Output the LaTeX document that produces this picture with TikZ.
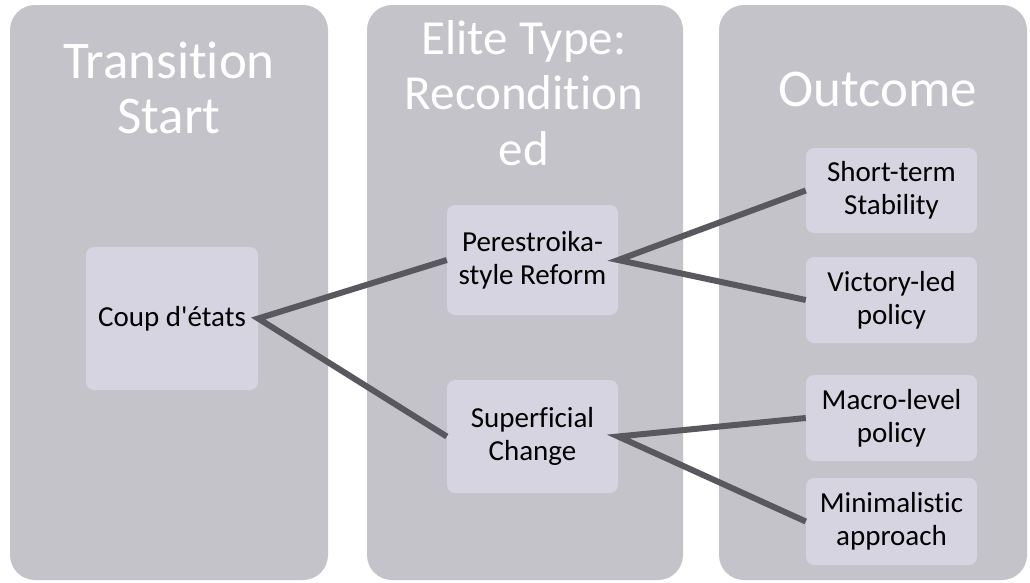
\documentclass[tikz,border=0pt]{standalone}
\usepackage{fontspec}
\setmainfont{Carlito}[Ligatures={TeXOff,CommonOff}]
\usetikzlibrary{calc}
\definecolor{colbg}{RGB}{196,195,202}
\definecolor{itembg}{RGB}{213,212,224}
\definecolor{linkgrey}{RGB}{88,88,94}
\begin{document}
\begin{tikzpicture}[x=1pt,y=-1pt]
	\tikzset{
	    column/.style={fill=colbg,rounded corners=25pt,inner sep=0pt},
	    heading/.style={anchor=north,align=center,text=white,inner sep=0pt,
	        font=\fontsize{53}{55}\selectfont},
	    item/.style={fill=itembg,rounded corners=8pt,align=center,inner sep=0pt,
	        minimum width=171pt,font=\fontsize{29}{33}\selectfont},
	    link/.style={draw=linkgrey,line width=6pt}}
	\useasboundingbox[fill=white] (0,0) rectangle (1030,582);
	% columns
	\node[column,minimum width=318pt,minimum height=575pt] (colstart) at (169,292.5) {};
	\node[column,minimum width=316pt,minimum height=575pt] (coltype) at (525,292.5) {};
	\node[column,minimum width=308pt,minimum height=575pt] (colout) at (873,292.5) {};
	\node[heading] (hstart) at (169,42) {Transition\\Start};
	\node[heading,font=\fontsize{49}{55.5}\selectfont] (htype) at (524,20) {Elite Type:\\Recondition\\ed};
	\node[heading] (hout) at (878,72) {Outcome};
	% boxes
	\node[item,minimum width=172pt,minimum height=143pt] (coup) at (172,318.5) {Coup d'états};
	\node[item,minimum height=110pt] (reform) at (532.5,260) {Perestroika-\\style Reform};
	\node[item,minimum height=113pt] (superficial) at (532.5,436.5) {Superficial\\Change};
	\node[item,minimum height=85pt] (stability) at (891.5,190.5) {Short-term\\Stability};
	\node[item,minimum height=86pt] (victory) at (891.5,300) {Victory-led\\policy};
	\node[item,minimum height=86pt] (macro) at (891.5,418) {Macro-level\\policy};
	\node[item,minimum height=87pt] (minimal) at (891.5,521.5) {Minimalistic\\approach};
	% links
	\draw[link] (reform.west) -- (coup.east) -- (superficial.west);
	\draw[link] (stability.west) -- (reform.east) -- (victory.west);
	\draw[link] (macro.west) -- (superficial.east) -- (minimal.west);
\end{tikzpicture}
\end{document}
